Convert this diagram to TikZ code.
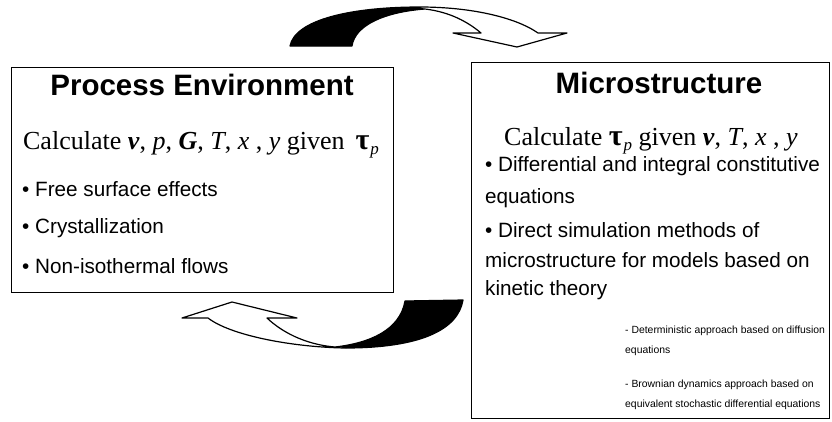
\documentclass[tikz,border=0pt]{standalone}
\usepackage{fontspec}
\setmainfont{Liberation Serif}
\setsansfont{Liberation Sans}
\newcommand\tauP{{\bfseries\fontsize{30}{30}\selectfont τ}\kern1pt\raisebox{-0.2em}{\fontsize{17}{17}\selectfont\itshape p}}
\begin{document}
\begin{tikzpicture}[x=1pt,y=-1pt,
  box/.style={draw=black,line width=1.3pt,inner sep=0pt},
  ttl/.style={font=\sffamily\bfseries\fontsize{29.5}{32}\selectfont,anchor=base,inner sep=0pt},
  calc/.style={font=\fontsize{26}{28}\selectfont,anchor=base,inner sep=0pt},
  itm/.style={font=\sffamily\fontsize{20.7}{24}\selectfont,anchor=base west,inner sep=0pt},
  sub/.style={font=\sffamily\fontsize{10.4}{12}\selectfont,anchor=base west,inner sep=0pt},
  arr/.style={draw=black,line width=1.2pt,fill=white,line join=round}]
\useasboundingbox (0,0) rectangle (832,421);
\fill[white] (0,0) rectangle (832,421);
% boxes
\node[box,minimum width=382pt,minimum height=225pt,anchor=north west] (pe) at (11,67) {};
\node[box,minimum width=358pt,minimum height=356pt,anchor=north west] (ms) at (471,62) {};
% left text
\node[ttl] (pet) at (202,95) {Process Environment};
\node[calc] (pec) at (201,149) {Calculate \textbf{\textit{v}}, \textit{p}, \textbf{\textit{G}}, \textit{T}, \textit{x} , \textit{y} given \,\tauP};
\node[itm] (pe1) at (22,196) {• Free surface effects};
\node[itm] (pe2) at (22,233) {• Crystallization};
\node[itm] (pe3) at (22,273) {• Non-isothermal flows};
% right text
\node[ttl] (mst) at (659,93) {Microstructure};
\node[calc] (msc) at (651,145) {Calculate \tauP\ given \textbf{\textit{v}}, \textit{T}, \textit{x} , \textit{y}};
\node[itm] (ms1) at (485,171) {• Differential and integral constitutive};
\node[itm] (ms2) at (485,203) {equations};
\node[itm] (ms3) at (485,237) {• Direct simulation methods of};
\node[itm] (ms4) at (485,267) {microstructure for models based on};
\node[itm] (ms5) at (485,295) {kinetic theory};
\node[sub] (ms6) at (625,333) {- Deterministic approach based on diffusion};
\node[sub] (ms7) at (625,353) {equations};
\node[sub] (ms8) at (625,387) {- Brownian dynamics approach based on};
\node[sub] (ms9) at (625,407) {equivalent stochastic differential equations};
% top arrow
\draw[arr] (290,46) .. controls (295,20) and (350,7) .. (420,7)
  .. controls (470,7) and (515,17) .. (538,33)
  -- (567,33) -- (517,47) -- (453,33) -- (481,33)
  .. controls (468,22) and (450,12) .. (425,9)
  .. controls (385,12) and (355,25) .. (352,46) -- cycle;
\fill[black] (290,46) .. controls (295,20) and (350,7) .. (420,7)
  -- (425,9) .. controls (385,12) and (355,25) .. (352,46) -- cycle;
% bottom arrow
\draw[arr] (182,318) -- (232,302) -- (297,318) -- (267,318)
  .. controls (285,335) and (310,345) .. (335,347)
  .. controls (370,343) and (400,330) .. (405,301)
  -- (463,300) .. controls (458,330) and (420,348) .. (345,348)
  .. controls (290,347) and (230,335) .. (208,318) -- cycle;
\fill[black] (335,347) .. controls (370,343) and (400,330) .. (405,301)
  -- (463,300) .. controls (458,330) and (420,348) .. (345,348) -- cycle;
\end{tikzpicture}
\end{document}
